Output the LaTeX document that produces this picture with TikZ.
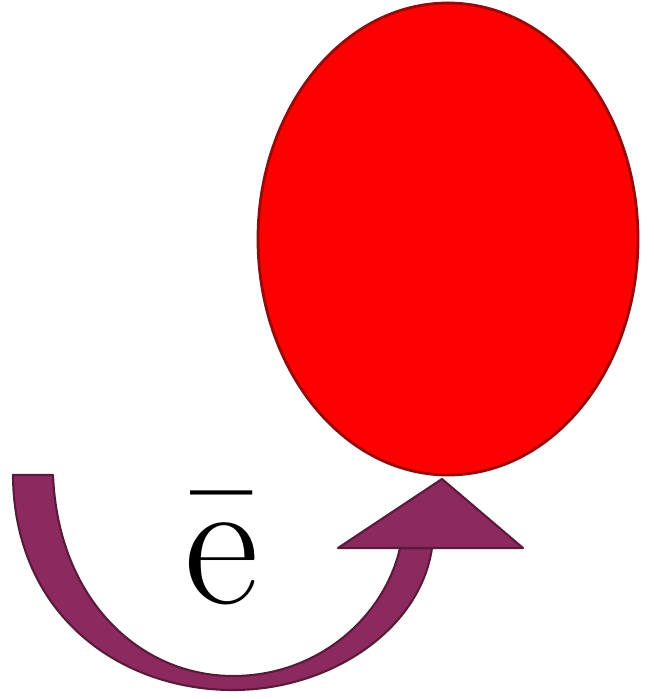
\documentclass[tikz,border=0pt]{standalone}
\definecolor{arrowpurple}{RGB}{140,42,95}
\definecolor{arrowedge}{RGB}{90,26,58}
\definecolor{ballred}{RGB}{255,0,0}
\definecolor{balledge}{RGB}{150,10,10}
\begin{document}
\begin{tikzpicture}[x=0.01cm,y=-0.01cm,
  band/.style={fill=arrowpurple,draw=arrowedge,line width=0.6pt,line join=round},
  ball/.style={fill=ballred,draw=balledge,line width=0.8pt},
  label/.style={font=\fontsize{52}{52}\selectfont,inner sep=0pt}]
\useasboundingbox (0,0) rectangle (654,699);
% red ellipse
\path[ball] (448,239) ellipse [x radius=190,y radius=236];
% curved band
\path[band] (13,475) .. controls (14,615) and (120,690) .. (233,690)
  .. controls (330,690) and (420,630) .. (432,548)
  -- (400,548)
  .. controls (385,615) and (320,676) .. (233,676)
  .. controls (140,676) and (58,600) .. (53,475) -- cycle;
% arrowhead
\path[band] (338,548) -- (442,479) -- (523,548) -- cycle;
% label
\node[label] (e) at (222,548) {\=e};
\end{tikzpicture}
\end{document}
